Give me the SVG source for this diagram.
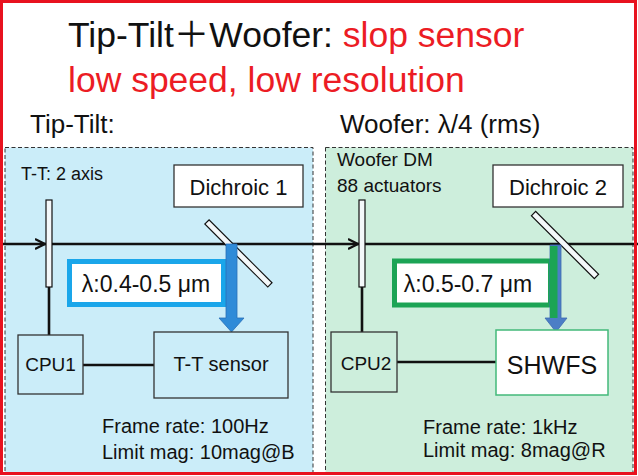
<svg xmlns="http://www.w3.org/2000/svg" width="638" height="476" viewBox="0 0 638 476">
<defs>
<style>
text{font-family:"Liberation Sans","Noto Sans CJK JP",sans-serif;fill:#111}
.red{fill:#ec1c24}
.panel{stroke:#333;stroke-width:1;stroke-dasharray:4 2.5}
.box{fill:none;stroke:#333;stroke-width:1.3}
.wbox{fill:#fff;stroke:#333;stroke-width:1.3}
.mirror{fill:#f4f8fa;stroke:#111;stroke-width:1.2}
.wire{stroke:#111;stroke-width:2.6;fill:none}
.beam{stroke:#111;stroke-width:2.4;fill:none}
</style>
<marker id="ah" markerWidth="12" markerHeight="12" refX="10" refY="5" orient="auto" markerUnits="userSpaceOnUse" viewBox="0 0 12 10">
<path d="M0,0 L10,5 L0,10" fill="none" stroke="#111" stroke-width="2.2"/>
</marker>
</defs>
<rect width="638" height="476" fill="#fff"/>

<g id="title">
<text x="68" y="47" font-size="35.5">Tip-Tilt＋Woofer: <tspan class="red">slop sensor</tspan></text>
<text x="68" y="92" font-size="35.5" class="red">low speed, low resolution</text>
<text x="30" y="133" font-size="26">Tip-Tilt:</text>
<text x="340" y="133" font-size="26">Woofer: λ/4 (rms)</text>
</g>

<g id="panel-tiptilt">
<rect x="5" y="147.5" width="308" height="325" fill="#cbedf9" class="panel"/>
</g>
<g id="panel-woofer">
<rect x="325.5" y="147.5" width="307.5" height="325" fill="#cdeedc" class="panel"/>
</g>

<g id="connectors">
<path class="beam" d="M0,244 H45" marker-end="url(#ah)"/>
<path class="beam" d="M45,244 H358" marker-end="url(#ah)"/>
<path class="beam" d="M358,244 H638"/>
<path class="wire" d="M49,287 V335"/>
<path class="wire" d="M83,365 H154"/>
<path class="wire" d="M362,287 V332"/>
<path class="wire" d="M397,362 H496"/>
</g>

<g id="tt-label">
<text x="21" y="180" font-size="18">T-T: 2 axis</text>
</g>
<g id="tt-mirror">
<rect x="46" y="200" width="6" height="87" class="mirror"/>
</g>
<g id="dichroic1">
<rect x="174" y="165" width="129" height="42" class="wbox"/>
<text x="238.5" y="195" font-size="22" text-anchor="middle">Dichroic 1</text>
</g>
<g id="dichroic1-mirror">
<rect x="197" y="243" width="89" height="6" class="mirror" transform="rotate(45 231 246)"/>
</g>
<g id="lambda1">
<rect x="69.5" y="261.5" width="154" height="43" fill="#fff" stroke="#1aa6ea" stroke-width="5"/>
<text x="146" y="292" font-size="23" text-anchor="middle">λ:0.4-0.5 μm</text>
</g>
<g id="arrow1">
<path d="M226,244 H237 V318 H244 L231.5,332 L219,318 H226 Z" fill="#2f8bd8" stroke="#2a6fb8" stroke-width="0.8"/>
</g>
<g id="cpu1">
<rect x="18" y="335" width="65" height="59" class="box"/>
<text x="50.5" y="371" font-size="19" text-anchor="middle">CPU1</text>
</g>
<g id="tt-sensor">
<rect x="154" y="332" width="134" height="66" class="box"/>
<text x="221" y="371" font-size="20" text-anchor="middle">T-T sensor</text>
</g>
<g id="tt-specs">
<text x="102" y="433" font-size="20">Frame rate: 100Hz</text>
<text x="102" y="459" font-size="20">Limit mag: 10mag@B</text>
</g>

<g id="woofer-label">
<text x="337" y="166" font-size="19">Woofer DM</text>
<text x="337" y="192" font-size="19">88 actuators</text>
</g>
<g id="woofer-mirror">
<rect x="359" y="200" width="6" height="87" class="mirror"/>
</g>
<g id="dichroic2">
<rect x="493" y="165" width="130" height="42" class="wbox"/>
<text x="558" y="195" font-size="22" text-anchor="middle">Dichroic 2</text>
</g>
<g id="dichroic2-mirror">
<rect x="520.5" y="242" width="89" height="6" class="mirror" transform="rotate(45 565 245)"/>
</g>
<g id="lambda2">
<rect x="394.5" y="261" width="156" height="44" fill="#fff" stroke="#1ca455" stroke-width="5"/>
<text x="468" y="292" font-size="23" text-anchor="middle">λ:0.5-0.7 μm</text>
</g>
<g id="arrow2">
<path d="M550,245 H561 V318 H567 L556,332 L545,318 H550 Z" fill="#4c7ec6" stroke="#3d6bb0" stroke-width="0.8"/>
<rect x="550" y="246" width="7.5" height="72" fill="#1ca455"/>
</g>
<g id="cpu2">
<rect x="331" y="332" width="66" height="60" class="box"/>
<text x="366" y="370" font-size="19" text-anchor="middle">CPU2</text>
</g>
<g id="shwfs">
<rect x="496" y="330" width="112" height="65" fill="#fff" stroke="#43b97a" stroke-width="1.5"/>
<text x="552" y="374" font-size="25" text-anchor="middle">SHWFS</text>
</g>
<g id="woofer-specs">
<text x="423" y="434" font-size="20">Frame rate: 1kHz</text>
<text x="423" y="457" font-size="20">Limit mag: 8mag@R</text>
</g>

<g id="frame">
<rect x="1.5" y="1.5" width="634" height="472" fill="none" stroke="#e8121f" stroke-width="3"/>
</g>
</svg>
